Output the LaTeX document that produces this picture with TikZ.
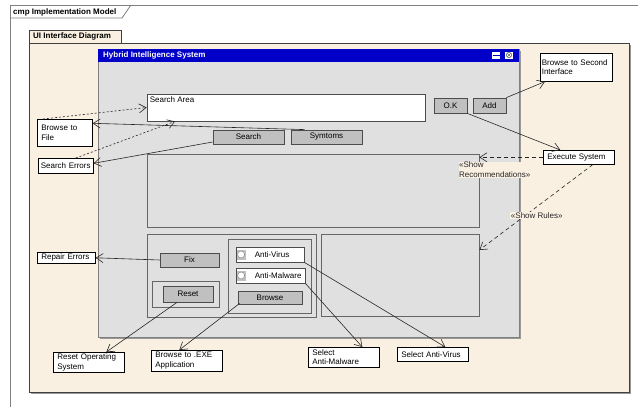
\documentclass[tikz,border=0pt]{standalone}
\usepackage{fontspec}
\setmainfont{Liberation Sans}
\usetikzlibrary{arrows.meta}

\definecolor{pkgfill}{RGB}{250,240,226}
\definecolor{winfill}{RGB}{224,224,224}
\definecolor{btnfill}{RGB}{192,192,192}
\definecolor{titleblue}{RGB}{0,0,200}
\definecolor{framegray}{RGB}{128,128,128}

\begin{document}
\begin{tikzpicture}[x=1pt, y=-1pt,
  every node/.style={font=\fontsize{8}{9.5}\selectfont, inner sep=0pt},
  head/.style={font=\fontsize{8}{9.5}\selectfont\bfseries, anchor=west},
  panel/.style={draw=black!60, fill=winfill, line width=0.8pt},
  btn/.style={draw=black!70, fill=btnfill, line width=0.8pt},
  field/.style={draw=black!70, fill=white, line width=0.8pt},
  note/.style={draw=black, fill=white, line width=0.6pt, anchor=north west,
    align=left, inner xsep=4pt, inner ysep=1pt, text width=#1},
  lbl/.style={fill=pkgfill, inner sep=0.5pt, align=left},
  link/.style={line width=0.6pt, black!85, -{Straight Barb[length=7pt,width=9pt]}},
  trace/.style={link, dash pattern=on 2pt off 2pt},
  dep/.style={link, dash pattern=on 4pt off 3pt}]
\useasboundingbox (0,0) rectangle (638,407);

\fill[white] (10,5) rectangle (638,407);
\draw[framegray, line width=0.8pt] (10,407) -- (10,5) -- (638,5);
\draw[framegray, line width=0.8pt] (10,18) -- (122,18) -- (131,5);
\node[head] (model) at (13,12) {cmp Implementation Model};

\fill[black!40] (31,45) rectangle (631,394);
\draw[black!75, fill=pkgfill] (29,43) rectangle (629,392);
\draw[black!75, fill=pkgfill] (29,30) rectangle (121,43);
\node[head] (pkg) at (33,36.5) {UI Interface Diagram};

\fill[black!40] (100,51) rectangle (521,339);
\node[panel, draw=framegray, minimum width=421pt, minimum height=288pt] (win) at (308.5,193) {};
\fill[titleblue] (win.north west) rectangle ([shift={(0,13)}]win.north east);
\node[head, text=white] (wintitle) at (103,55.5) {Hybrid Intelligence System};
\fill[white] (492,51.5) rectangle (500,58.5);
\draw[titleblue, line width=1pt] (492.5,55) -- (499.5,55);
\fill[white] (505,51.5) rectangle (513,58.5);
\draw[black!60, line width=0.5pt] (509,55) circle[radius=2.8pt]
  (507,53) -- (511,57) (507,57) -- (511,53);

\node[field, minimum width=278pt, minimum height=27pt] (search) at (286,107.5) {};
\node[anchor=north west] (searchtxt) at ([shift={(3,3)}]search.north west) {Search Area};
\node[btn, minimum width=33pt, minimum height=15pt] (ok) at (450.5,105.5) {O.K};
\node[btn, minimum width=33pt, minimum height=15pt] (add) at (489.5,105.5) {Add};
\node[btn, minimum width=71pt, minimum height=14pt] (searchbtn) at (248.5,137) {Search};
\node[btn, minimum width=71pt, minimum height=14pt] (symtoms) at (326.5,137) {Symtoms};

\node[panel, minimum width=332pt, minimum height=73pt] (recbox) at (313,190.5) {};
\node[panel, minimum width=169pt, minimum height=83pt] (lpanel) at (231.5,275.5) {};
\node[panel, minimum width=158pt, minimum height=82pt] (rpanel) at (400,275) {};
\node[panel, minimum width=83pt, minimum height=74pt] (radio) at (269.5,276) {};
\node[btn, minimum width=59pt, minimum height=14pt] (fix) at (189.5,260) {Fix};
\node[panel, minimum width=67pt, minimum height=26pt] (resetgrp) at (185.5,294) {};
\node[btn, minimum width=50pt, minimum height=16pt] (reset) at (188,294) {Reset};
\node[field, minimum width=68pt, minimum height=15pt] (antivir) at (270,254.5) {};
\node[field, minimum width=69pt, minimum height=15pt] (antimal) at (270.5,275.5) {};
\node[btn, minimum width=64pt, minimum height=13pt] (browse) at (270,297.5) {Browse};
\foreach \r in {antivir, antimal} {
  \fill[black!25] ([shift={(1,-5)}]\r.west) rectangle ([shift={(10,5)}]\r.west);
  \draw[black!45, fill=white, line width=0.5pt] ([shift={(5.5,0)}]\r.west) circle[radius=3.5pt];
}
\node[anchor=west] (antivirtxt) at ([shift={(19,0)}]antivir.west) {Anti-Virus};
\node[anchor=west] (antimaltxt) at ([shift={(19,0)}]antimal.west) {Anti-Malware};

\node[note=69pt, inner xsep=1.5pt, minimum height=28pt] (browse2) at (540,53) {Browse to Second\\Interface};
\node[note=63pt, minimum height=14pt] (exec) at (543,150) {Execute System};
\node[note=47pt, minimum height=27pt] (browsefile) at (37,119) {Browse to\\File};
\node[note=50pt, inner xsep=2.5pt, minimum height=15pt] (searcherr) at (38,158) {Search Errors};
\node[note=50pt, minimum height=11pt] (repair) at (37,252) {Repair Errors};
\node[note=63pt, minimum height=20pt] (resetos) at (53,352) {Reset Operating\\System};
\node[note=63pt, minimum height=21pt] (browseexe) at (151,350) {Browse to .EXE\\Application};
\node[note=63pt, minimum height=20pt] (selmal) at (308,347) {Select\\Anti-Malware};
\node[note=63pt, minimum height=14pt] (selvir) at (397,347) {Select Anti-Virus};

\draw[trace] ([shift={(6,0)}]browsefile.north west) -- (search.west);
\draw[trace] ([shift={(10,0)}]searcherr.north) -- ([shift={(-111,0)}]search.south);
\draw[link] ([shift={(14,0)}]symtoms.north west) -- ([shift={(0,-9.5)}]browsefile.east);
\draw[link] ([shift={(0,5)}]searchbtn.west) -- ([shift={(0,-2.5)}]searcherr.east);
\draw[link] (add.north east) -- ([shift={(5,0)}]browse2.south west);
\draw[link] (ok.south east) -- ([shift={(-18.5,0)}]exec.north);
\draw[dep] (exec.west) -- (recbox.east |- exec.west)
  node[lbl, anchor=north west, xshift=-21pt, yshift=-4pt] (reclbl) {«Show\\Recommendations»};
\draw[dep] ([shift={(14,0)}]exec.south) -- ([shift={(0,-25)}]rpanel.east)
  node[lbl, pos=0.6, xshift=12pt] (rulelbl) {«Show Rules»};
\draw[link] (fix.west) -- (repair.east);
\draw[link] ([shift={(-11,0)}]reset.south) -- ([shift={(17.5,0)}]resetos.north);
\draw[link] ([shift={(2,-1)}]browse.south west) -- ([shift={(-7.5,0)}]browseexe.north);
\draw[link] (antimal.south east) -- ([shift={(18.5,0)}]selmal.north);
\draw[link] (antivir.south east) -- ([shift={(12.5,0)}]selvir.north);
\end{tikzpicture}
\end{document}
